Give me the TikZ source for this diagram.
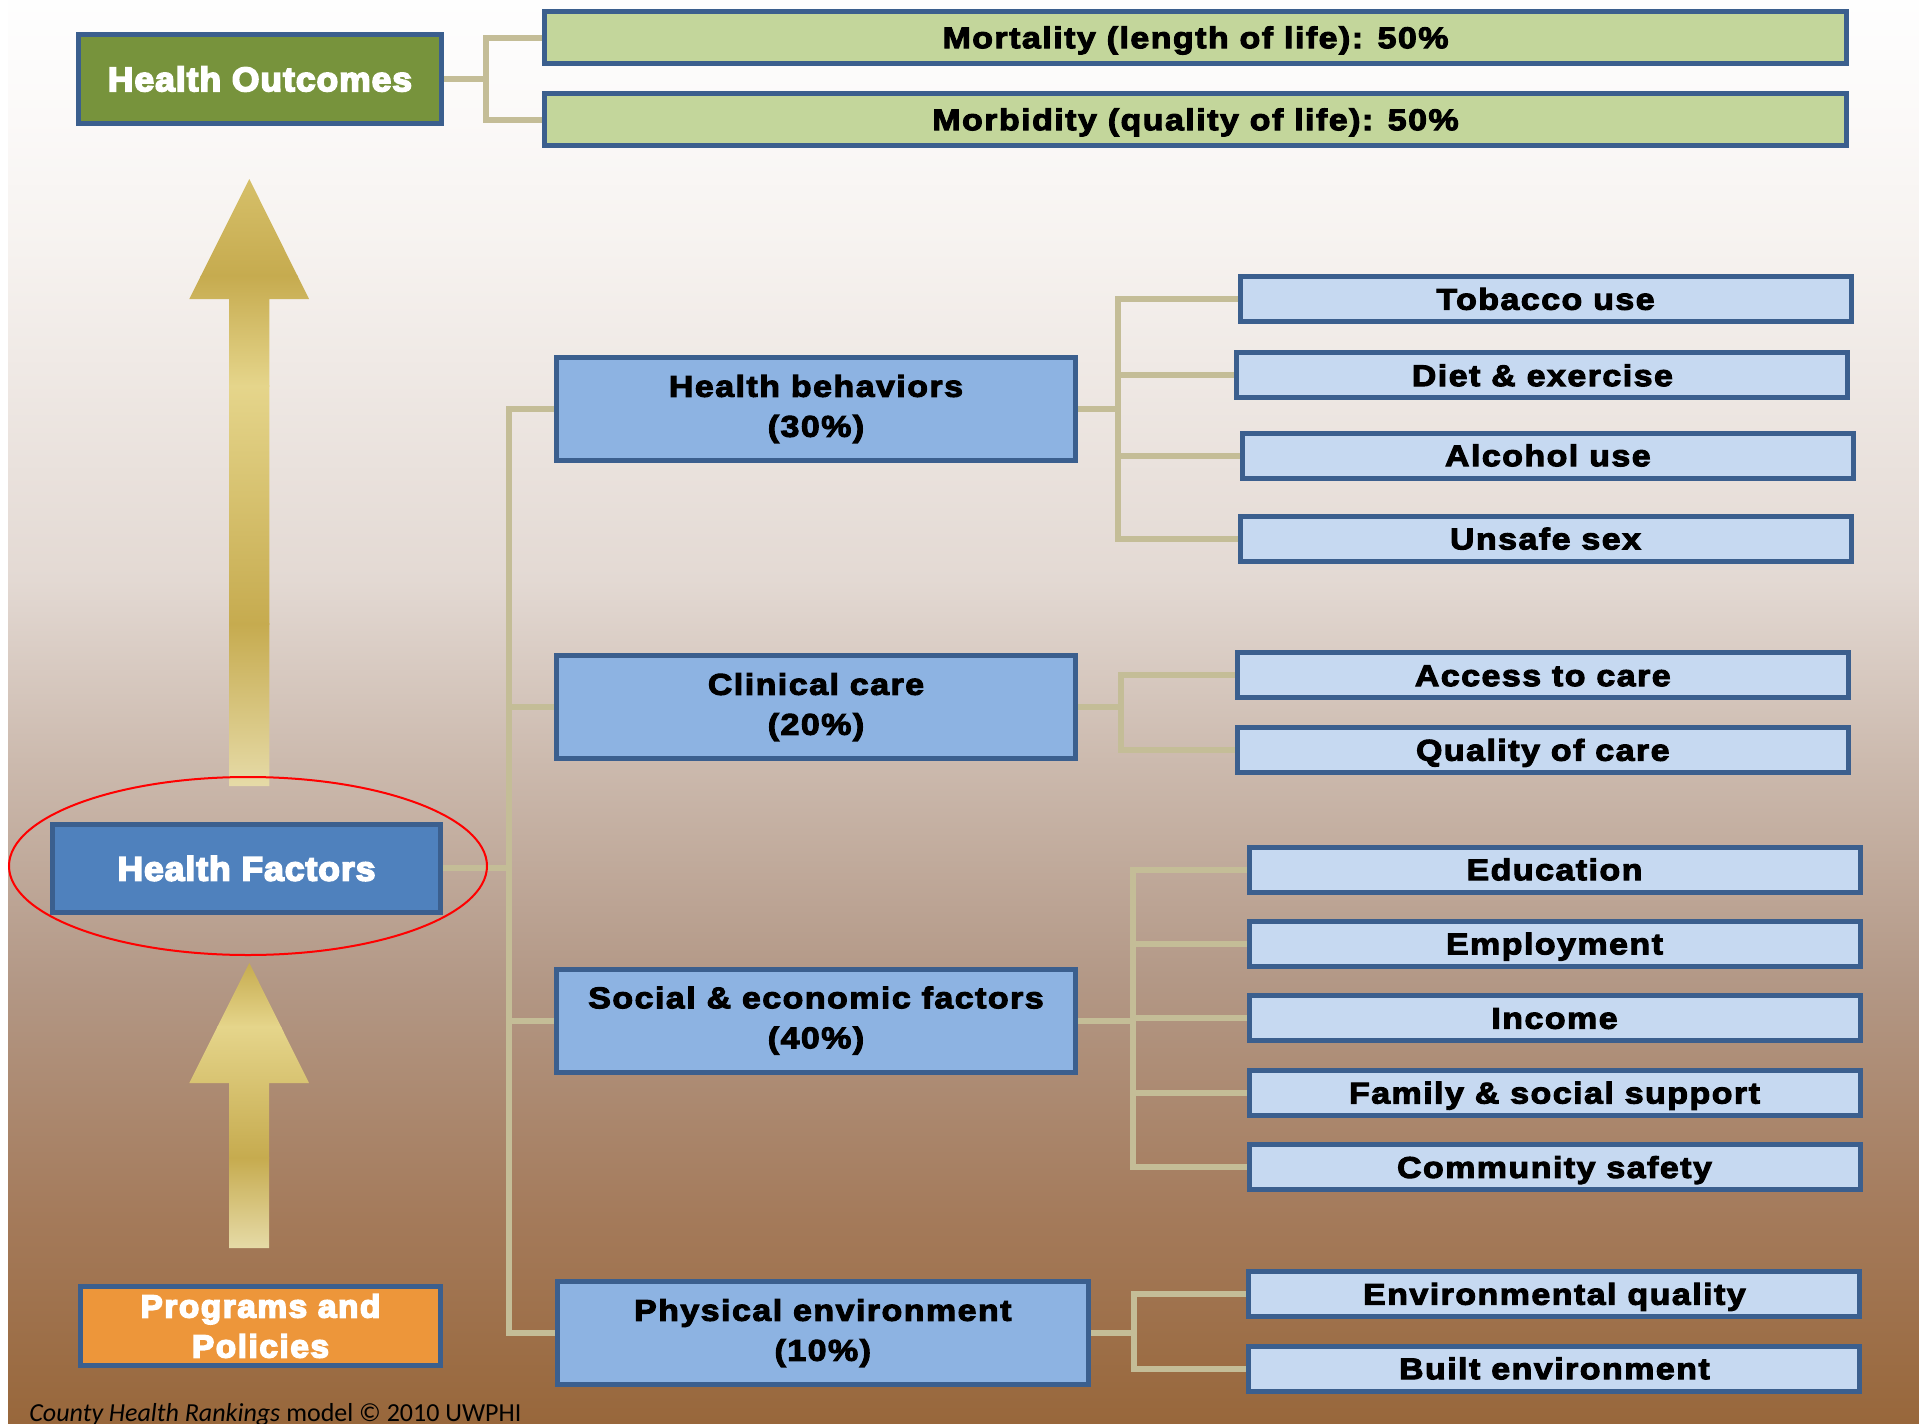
\documentclass[tikz,border=0pt]{standalone}
\usepackage{fontspec}
\setmainfont{Liberation Sans}
\newfontfamily\boxfont{Liberation Sans Bold}[LetterSpace=5,FakeBold=3.5,FakeStretch=1.13]
\newfontfamily\headfont{Liberation Sans Bold}[LetterSpace=3,FakeBold=5,FakeStretch=1.04]
\newfontfamily\ppfont{Liberation Sans Bold}[LetterSpace=5,FakeBold=5,FakeStretch=1.04]
\newfontfamily\capfont{Carlito}
\usetikzlibrary{shapes.geometric}
\pgfdeclarelayer{back}
\pgfsetlayers{back,main}
\definecolor{bord}{HTML}{3B5F8E}
\definecolor{catfill}{HTML}{8DB3E2}
\definecolor{subfill}{HTML}{C6D9F1}
\definecolor{outfill}{HTML}{C3D69B}
\definecolor{hofill}{HTML}{77933C}
\definecolor{hffill}{HTML}{4F81BD}
\definecolor{ppfill}{HTML}{ED963A}
\definecolor{connc}{HTML}{C4BD97}
\definecolor{bgA}{HTML}{FEFEFE}
\definecolor{bgB}{HTML}{FBF9F8}
\definecolor{bgC}{HTML}{F6F2EF}
\definecolor{bgD}{HTML}{E3D9D3}
\definecolor{bgE}{HTML}{CCBAAE}
\definecolor{bgF}{HTML}{B39886}
\definecolor{bgG}{HTML}{A47A5A}
\definecolor{bgH}{HTML}{98673B}
\definecolor{arT}{HTML}{D6C06A}
\definecolor{arD}{HTML}{C6AB4F}
\definecolor{arL}{HTML}{E5D58B}
\definecolor{arB}{HTML}{E6DBA8}
\tikzset{
  box/.style={draw=bord, line width=2.5pt, align=center, inner sep=0pt, text=black,
    font=\boxfont\fontsize{15}{20}\selectfont},
  catbox/.style={box, fill=catfill, minimum width=259.5pt, minimum height=51.5pt},
  subbox/.style={box, fill=subfill, minimum width=305.5pt, minimum height=22.5pt,
    text height=10.7pt, text depth=0pt},
  outbox/.style={box, fill=outfill, minimum width=651pt, minimum height=26pt,
    text height=10.7pt, text depth=0pt},
  headbox/.style={box, text=white, font=\headfont\fontsize{17}{20}\selectfont,
    text height=12.2pt, text depth=0pt},
  conn/.style={draw=connc, line width=3pt},
}
\begin{document}
\begin{tikzpicture}[x=0.5pt, y=-0.5pt]
\useasboundingbox (0,0) rectangle (1919,1424);
% background and arrows
\begin{pgfonlayer}{back}
  \fill[white] (0,0) rectangle (1919,1424);
  \shade[top color=bgA, bottom color=bgB] (8,0) rectangle (1919,120);
  \shade[top color=bgB, bottom color=bgC] (8,119.5) rectangle (1919,250);
  \shade[top color=bgC, bottom color=bgD] (8,249.5) rectangle (1919,580);
  \shade[top color=bgD, bottom color=bgE] (8,579.5) rectangle (1919,760);
  \shade[top color=bgE, bottom color=bgF] (8,759.5) rectangle (1919,980);
  \shade[top color=bgF, bottom color=bgG] (8,979.5) rectangle (1919,1220);
  \shade[top color=bgG, bottom color=bgH] (8,1219.5) rectangle (1919,1424);
  % upper arrow
  \begin{scope}
    \clip (249.3,179) -- (309,299) -- (269.3,299) -- (269.3,786) -- (229,786)
      -- (229,299) -- (189.3,299) -- cycle;
    \shade[top color=arT, bottom color=arD] (180,178) rectangle (320,276);
    \shade[top color=arD, bottom color=arL] (180,275.5) rectangle (320,386);
    \shade[top color=arL, bottom color=arD] (180,385.5) rectangle (320,624);
    \shade[top color=arD, bottom color=arB] (180,623.5) rectangle (320,787);
  \end{scope}
  % lower arrow
  \begin{scope}
    \clip (249.3,963) -- (309,1083) -- (269,1083) -- (269,1248) -- (229,1248)
      -- (229,1083) -- (189.3,1083) -- cycle;
    \shade[top color=arD, bottom color=arL] (180,962) rectangle (320,1027);
    \shade[top color=arL, bottom color=arD] (180,1026.5) rectangle (320,1158);
    \shade[top color=arD, bottom color=arB] (180,1157.5) rectangle (320,1249);
  \end{scope}
\end{pgfonlayer}

% left column
\node[headbox, fill=hofill, minimum width=181.25pt, minimum height=44.5pt] (ho) at (260,79) {Health Outcomes};
\node[headbox, fill=hffill, minimum width=194pt, minimum height=44pt] (hf) at (246.5,868.4) {Health Factors};
\node[box, fill=ppfill, text=white, font=\ppfont\fontsize{16}{20}\selectfont,
  minimum width=180pt, minimum height=39.5pt] (pp) at (260.5,1326) {Programs and\\Policies};

% outcomes
\node[outbox] (mort) at (1195.5,37.5) {Mortality (length of life): 50\%};
\node[outbox] (morb) at (1195.5,119.5) {Morbidity (quality of life): 50\%};

% categories
\node[catbox] (hb) at (816,409) {Health behaviors\\(30\%)};
\node[catbox] (cc) at (816,707) {Clinical care\\(20\%)};
\node[catbox] (se) at (816,1020.5) {Social \& economic factors\\(40\%)};
\node[catbox, minimum width=265.3pt] (pe) at (822.8,1333) {Physical environment\\(10\%)};

% sub factors
\node[subbox] (tob) at (1545.5,299) {Tobacco use};
\node[subbox] (diet) at (1542.4,375.4) {Diet \& exercise};
\node[subbox] (alc) at (1547.8,455.5) {Alcohol use};
\node[subbox] (uns) at (1545.5,538.7) {Unsafe sex};
\node[subbox] (acc) at (1542.8,675.4) {Access to care};
\node[subbox] (qual) at (1542.8,750) {Quality of care};
\node[subbox] (edu) at (1554.5,869.5) {Education};
\node[subbox] (emp) at (1554.5,943.7) {Employment};
\node[subbox] (inc) at (1554.5,1018) {Income};
\node[subbox] (fam) at (1554.5,1092.8) {Family \& social support};
\node[subbox] (com) at (1554.5,1167.2) {Community safety};
\node[subbox] (envq) at (1554.4,1294) {Environmental quality};
\node[subbox] (built) at (1554.4,1368.5) {Built environment};

% junction points
\coordinate (jo) at (486,79);
\coordinate (jm) at (509,868.4);
\coordinate (jb) at (1117.6,409);
\coordinate (jc) at (1121,707);
\coordinate (js) at (1133,1020.5);
\coordinate (jp) at (1133.8,1333);

\begin{pgfonlayer}{back}
  \draw[conn] (ho.east) -- (jo);
  \draw[conn] (mort.west) -| (jo) |- (morb.west);
  \draw[conn] (hb.west) -| (jm) |- (pe.west);
  \draw[conn] (hf.east) -- (jm);
  \draw[conn] (cc.west) -- (cc.west -| jm);
  \draw[conn] (se.west) -- (se.west -| jm);
  \draw[conn] (hb.east) -- (jb);
  \draw[conn] (tob.west) -| (jb) |- (uns.west);
  \draw[conn] (diet.west) -- (diet.west -| jb);
  \draw[conn] (alc.west) -- (alc.west -| jb);
  \draw[conn] (cc.east) -- (jc);
  \draw[conn] (acc.west) -| (jc) |- (qual.west);
  \draw[conn] (se.east) -- (js);
  \draw[conn] (edu.west) -| (js) |- (com.west);
  \draw[conn] (emp.west) -- (emp.west -| js);
  \draw[conn] (fam.west) -- (fam.west -| js);
  \draw[conn] (inc.west) -- (inc.west -| js);
  \draw[conn] (pe.east) -- (jp);
  \draw[conn] (envq.west) -| (jp) |- (built.west);
\end{pgfonlayer}

% highlight ellipse
\node[draw=red, line width=1pt, ellipse, inner sep=0pt, minimum width=239pt, minimum height=89pt] (hl) at (248,866) {};

% caption
\node[anchor=base west, inner sep=0pt, font=\capfont\fontsize{13}{15}\selectfont] (cap) at (29,1421)
  {\textit{County Health Rankings} model © 2010 UWPHI};
\end{tikzpicture}
\end{document}
